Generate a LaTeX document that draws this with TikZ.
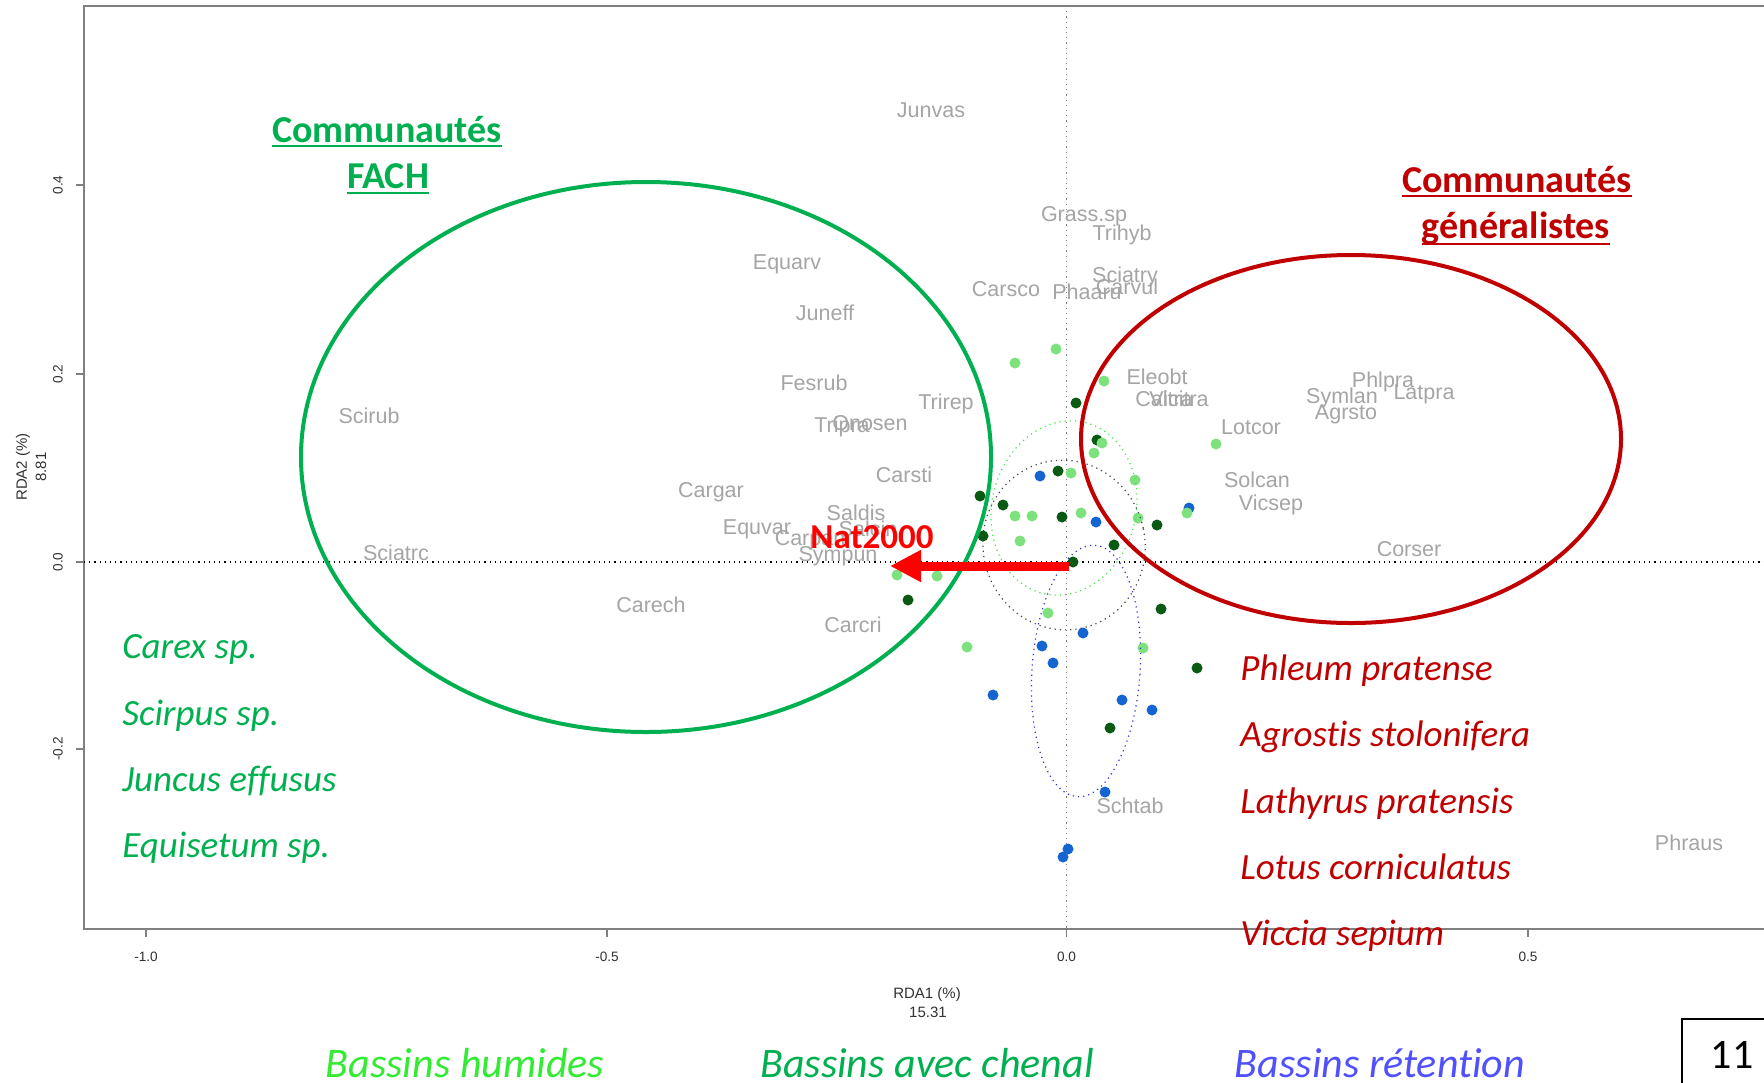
\documentclass[tikz,border=0pt]{standalone}
\usepackage{fontspec}
\setmainfont{Carlito}[Ligatures=CommonOff]
\newfontfamily\arialf{Liberation Sans}
\usetikzlibrary{arrows.meta}
\definecolor{labgray}{RGB}{165,165,165}
\definecolor{lgdot}{RGB}{125,225,125}
\definecolor{dgdot}{RGB}{10,90,20}
\definecolor{bldot}{RGB}{20,100,210}
\definecolor{fachgreen}{RGB}{0,176,80}
\definecolor{genred}{RGB}{192,0,0}
\definecolor{humgreen}{RGB}{50,235,50}
\definecolor{retblue}{RGB}{80,80,255}
\definecolor{axgray}{RGB}{128,128,128}
\definecolor{ticktext}{RGB}{50,50,50}
\definecolor{natred}{RGB}{255,0,0}
\begin{document}
\begin{tikzpicture}[x=0.5pt,y=0.5pt,
  lab/.style={font=\arialf\fontsize{10.75}{12}\selectfont, text=labgray, anchor=base, inner sep=0pt},
  ticklab/.style={font=\arialf\fontsize{6.8}{7}\selectfont, text=ticktext, inner sep=0pt},
  axlab/.style={font=\arialf\fontsize{7.5}{8}\selectfont, text=ticktext, inner sep=0pt},
  hdr/.style={font=\bfseries\fontsize{19}{22}\selectfont, anchor=base, inner sep=0pt},
  spec/.style={font=\itshape\fontsize{18.5}{22}\selectfont, anchor=base west, inner sep=0pt},
  legtxt/.style={font=\itshape\fontsize{21}{24}\selectfont, anchor=base, inner sep=0pt},
  lgd/.style={fill=lgdot},
  dgd/.style={fill=dgdot},
  bld/.style={fill=bldot},
  smallell/.style={dotted, line width=0.6pt}
]
\useasboundingbox (0,-1082) rectangle (1764,0);
\fill[white] (0,-1082) rectangle (1764,0);

% frame
\draw[axgray, line width=1pt] (1764,-6) -- (84,-6) -- (84,-929) -- (1764,-929);
% ticks
\foreach \tx in {146,607,1066.5,1528} \draw[axgray, line width=0.6pt] (\tx,-929) -- (\tx,-937);
\foreach \ty in {185,374,562,749} \draw[axgray, line width=0.6pt] (84,-\ty) -- (76,-\ty);
\node[ticklab] (xt1) at (146,-957) {-1.0};
\node[ticklab] (xt2) at (607,-957) {-0.5};
\node[ticklab] (xt3) at (1066.5,-957) {0.0};
\node[ticklab] (xt4) at (1528,-957) {0.5};
\node[ticklab, rotate=90] (yt1) at (58,-185) {0.4};
\node[ticklab, rotate=90] (yt2) at (58,-374) {0.2};
\node[ticklab, rotate=90] (yt3) at (58,-562) {0.0};
\node[ticklab, rotate=90] (yt4) at (58,-749) {-0.2};
\node[axlab] (xl1) at (927,-995) {RDA1 (\%)};
\node[axlab] (xl2) at (928,-1012) {15.31};
\node[axlab, rotate=90] (yl1) at (23,-467) {RDA2 (\%)};
\node[axlab, rotate=90] (yl2) at (41,-467) {8.81};

% axes through origin
\draw[black, dotted, line width=0.6pt] (84,-562) -- (1764,-562);
\draw[axgray, dotted, line width=0.6pt] (1066.5,-6) -- (1066.5,-929);

% species labels
\node[lab] (junvas) at (931,-117) {Junvas};
\node[lab] (grass) at (1084,-221) {Grass.sp};
\node[lab] (trihyb) at (1122,-240) {Trihyb};
\node[lab] (equarv) at (787,-269) {Equarv};
\node[lab] (carsco) at (1006,-296) {Carsco};
\node[lab] (phaaru) at (1087,-299) {Phaaru};
\node[lab] (sciatry) at (1125,-282) {Sciatry};
\node[lab] (carvul) at (1127,-294) {Carvul};
\node[lab] (juneff) at (825,-320) {Juneff};
\node[lab] (fesrub) at (814,-390) {Fesrub};
\node[lab] (trirep) at (946,-409) {Trirep};
\node[lab] (tripra) at (842,-432) {Tripra};
\node[lab] (onosen) at (870,-430) {Onosen};
\node[lab] (eleobt) at (1157,-384) {Eleobt};
\node[lab] (caltra) at (1164,-406) {Caltra};
\node[lab] (vicitra) at (1179,-406) {Vicitra};
\node[lab] (lotcor) at (1251,-434) {Lotcor};
\node[lab] (phlpra) at (1383,-387) {Phlpra};
\node[lab] (latpra) at (1424,-399) {Latpra};
\node[lab] (symlan) at (1342,-403) {Symlan};
\node[lab] (agrsto) at (1346,-419) {Agrsto};
\node[lab] (solcan) at (1257,-487) {Solcan};
\node[lab] (vicsep) at (1271,-510) {Vicsep};
\node[lab] (corser) at (1409,-556) {Corser};
\node[lab] (carsti) at (904,-482) {Carsti};
\node[lab] (cargar) at (711,-497) {Cargar};
\node[lab] (saldis) at (856,-520) {Saldis};
\node[lab] (equvar) at (757,-534) {Equvar};
\node[lab] (carpan) at (810,-545) {Carpan};
\node[lab] (salcin) at (868,-536) {Salcin};
\node[lab] (sympun) at (838,-561) {Sympun};
\node[lab] (carech) at (651,-612) {Carech};
\node[lab] (carcri) at (853,-632) {Carcri};
\node[lab] (scirub) at (369,-423) {Scirub};
\node[lab] (sciatrc) at (396,-560) {Sciatrc};
\node[lab] (schtab) at (1130,-813) {Schtab};
\node[lab] (phraus) at (1689,-850) {Phraus};

% points
\foreach \px/\py in {1076/403,1097/440,1058/471,980/496,1003/505,1062/517,1157/525,983/536,1114/545,1073/562,908/600,1161/609,1197/668,1110/728}
  \fill[dgd] (\px,-\py) circle (5.5);
\foreach \px/\py in {1040/476,1096/522,1189/508,1083/633,1042/646,1053/663,993/695,1122/700,1152/710,1105/792,1068/849,1063/857}
  \fill[bld] (\px,-\py) circle (5.5);
\foreach \px/\py in {1015/363,1056/349,1104/381,1102/443,1094/453,1135/480,1071/473,1015/516,1032/516,1081/513,1138/518,1187/513,1020/541,897/575,937/576,1048/613,967/647,1143/648,1216/444}
  \fill[lgd] (\px,-\py) circle (5.5);

% group ellipses (dotted)
\draw[smallell, draw={rgb,255:red,70;green,230;blue,70}] (1064,-508) ellipse [x radius=72, y radius=88, rotate=-14];
\draw[smallell, draw={rgb,255:red,70;green,70;blue,70}] (1064,-545) ellipse [x radius=81, y radius=85, rotate=12];
\draw[smallell, draw={rgb,255:red,50;green,50;blue,220}] (1086,-671) ellipse [x radius=54, y radius=126, rotate=-4];

% community ellipses
\draw[fachgreen, line width=2pt] (646,-457) ellipse [x radius=345, y radius=275];
\draw[genred, line width=2pt] (1351,-439) ellipse [x radius=270, y radius=184];

% Nat2000 arrow
\coordinate (arrS) at (1069,-566);
\coordinate (arrE) at (890,-566);
\draw[natred, line width=4.5pt, -{Triangle[length=15.5pt,width=15pt]}] (arrS) -- (arrE);
\node[font=\bfseries\fontsize{17.5}{20}\selectfont, text=natred, anchor=base, inner sep=0pt] (nat) at (872,-548) {Nat2000};

% headers
\node[hdr, text=fachgreen] (hg1) at (387,-142) {Communautés};
\node[hdr, text=fachgreen] (hg2) at (388,-188) {FACH};
\draw[fachgreen, line width=1.3pt] ([yshift=-2pt]hg1.base west) -- ([yshift=-2pt]hg1.base east);
\draw[fachgreen, line width=1.3pt] ([yshift=-2.5pt]hg2.base west) -- ([yshift=-2.5pt]hg2.base east);
\node[hdr, text=genred] (hr1) at (1517,-192) {Communautés};
\node[hdr, text=genred] (hr2) at (1516,-238) {généralistes};
\draw[genred, line width=1.3pt] ([yshift=-2pt]hr1.base west) -- ([yshift=-2pt]hr1.base east);
\draw[genred, line width=1.3pt] ([yshift=-3pt]hr2.base west) -- ([yshift=-3pt]hr2.base east);

% species lists
\node[spec, text=fachgreen] (g1) at (122,-658) {Carex sp.};
\node[spec, text=fachgreen] (g2) at (122,-725) {Scirpus sp.};
\node[spec, text=fachgreen] (g3) at (122,-791) {Juncus effusus};
\node[spec, text=fachgreen] (g4) at (122,-857) {Equisetum sp.};
\node[spec, text=genred] (r1) at (1240,-680) {Phleum pratense};
\node[spec, text=genred] (r2) at (1240,-746) {Agrostis stolonifera};
\node[spec, text=genred] (r3) at (1240,-813) {Lathyrus pratensis};
\node[spec, text=genred] (r4) at (1240,-879) {Lotus corniculatus};
\node[spec, text=genred] (r5) at (1240,-945) {Viccia sepium};

% bottom legend
\node[legtxt, text=humgreen] (lh) at (465,-1077) {Bassins humides};
\node[legtxt, text=fachgreen] (lc) at (927,-1077) {Bassins avec chenal};
\node[legtxt, text=retblue] (lr) at (1380,-1077) {Bassins rétention};

% page number box
\draw[black, line width=1.2pt] (1682,-1120) -- (1682,-1019) -- (1800,-1019);
\node[font=\fontsize{21}{24}\selectfont, anchor=base, inner sep=0pt] (pg) at (1732,-1068) {11};
\end{tikzpicture}
\end{document}
